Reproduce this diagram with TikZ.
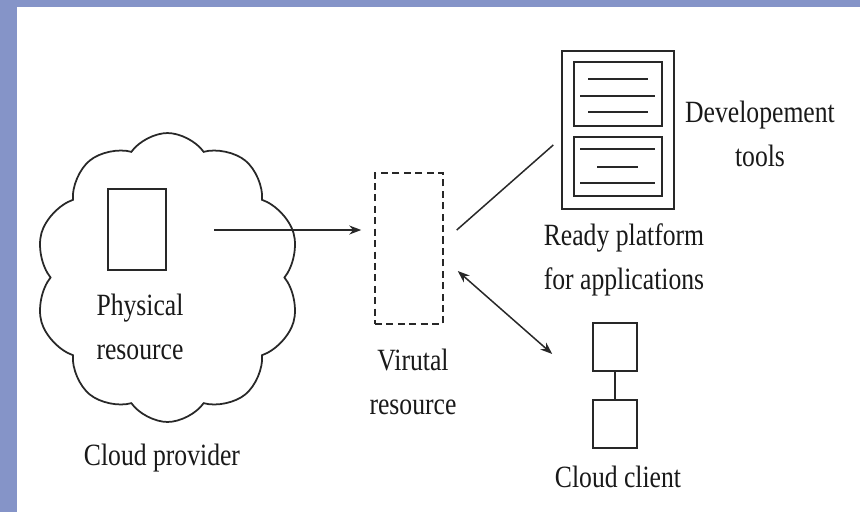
\documentclass[tikz,border=0pt]{standalone}
\usepackage{fontspec}
\setmainfont[FakeStretch=0.83]{Liberation Serif}
\usetikzlibrary{shapes.symbols,arrows.meta,calc}
\definecolor{slide}{RGB}{133,148,200}
\definecolor{ink}{RGB}{40,40,40}

\begin{document}
\begin{tikzpicture}[x=0.02cm,y=-0.02cm,
    box/.style={draw=ink,line width=0.85pt,inner sep=0pt},
    lbl/.style={align=center,inner sep=0pt,text=black!90,font=\fontsize{17.6}{25}\selectfont},
    tick/.style={draw=ink,line width=0.85pt},
    >={Stealth[length=0.24cm,width=0.18cm]}]
				\useasboundingbox (0,0) rectangle (860,512);
				\fill[slide] (0,0) rectangle (860,512);
				\fill[white] (17,7) rectangle (860,512);
				% provider side
				\node[cloud,cloud puffs=10,cloud puff arc=110,draw=ink,line width=1pt,minimum width=5.3cm,minimum height=5.78cm] (cld) at (167.5,277.5) {};
				\node[box,minimum width=1.16cm,minimum height=1.62cm] (phys) at (137,229.5) {};
				\node[lbl] (physlbl) at (140,327) {Physical\\resource};
				\node[lbl] (prov) at (162,458) {Cloud provider};
				\coordinate (src) at (214,230);
				% virtual resource
				\node[box,dash pattern=on 4pt off 2.5pt,minimum width=1.36cm,minimum height=3.02cm] (virt) at (409,248.5) {};
				\node[lbl] (virtlbl) at (413,382) {Virutal\\resource};
				% platform with tools
				\node[box,minimum width=2.24cm,minimum height=3.16cm] (plat) at (618,130) {};
				\node[box,minimum width=1.76cm,minimum height=1.28cm] (tooltop) at (618,94) {};
				\node[box,minimum width=1.76cm,minimum height=1.18cm] (toolbot) at (618,166.5) {};
				\draw[tick] (588,79) -- (648,79);
				\draw[tick] (580,96) -- (655,96);
				\draw[tick] (588,112) -- (648,112);
				\draw[tick] (580,149) -- (655,149);
				\draw[tick] (597,167) -- (638,167);
				\draw[tick] (580,183) -- (655,183);
				\node[lbl] (devlbl) at (760,134) {Developement\\tools};
				\node[lbl] (platlbl) at (624,260) {Ready platform\\for applications};
				% client
				\node[box,minimum width=0.88cm,minimum height=0.96cm] (cltop) at (615,347) {};
				\node[box,minimum width=0.88cm,minimum height=0.96cm] (clbot) at (615,424) {};
				\draw[tick] (cltop) -- (clbot);
				\node[lbl] (cllbl) at (618,477) {Cloud client};
				% connectors
				\draw[->,ink,line width=0.85pt,shorten >=0.26cm] (src) -- (src -| virt.west);
				\draw[ink,line width=0.85pt] ($(virt.east |- src)+(13,0)$) -- ($(plat.west)+(-8,15)$);
				\draw[<->,ink,line width=0.85pt] ($(virt.east)+(14,22.5)$) -- ($(cltop.west)+(-40,7)$);
			\end{tikzpicture}
\end{document}
